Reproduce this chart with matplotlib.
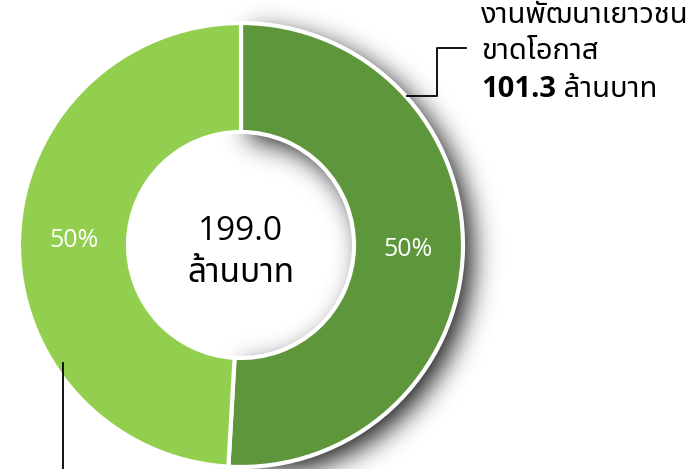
import numpy as np
import matplotlib
matplotlib.use("Agg")
import matplotlib.pyplot as plt

plt.rcParams['font.family'] = ['Open Sans', 'Noto Sans Thai', 'DejaVu Sans']

# data
values = [101.3, 97.7]
pct_labels = ["50%", "50%"]
colors = ["#5E973B", "#92CF4F"]
total_label = "199.0"
unit = "ล้านบาท"
callout_title = "งานพัฒนาเยาวชน\nขาดโอกาส"
callout_value = "101.3"

W, H = 696, 469
cx, cy = 241, 245          # donut centre, pixels from top-left
r_out, r_in = 222, 113

fig = plt.figure(figsize=(W / 100, H / 100), dpi=100)
ax = fig.add_axes([0, 0, 1, 1])
ax.set_xlim(0, W)
ax.set_ylim(0, H)
ax.axis('off')

# soft shadow behind the dark slice
yy, xx = np.mgrid[0:H, 0:W].astype(float)
sx, sy = cx + 9, cy + 8
rr = np.hypot(xx - sx, yy - sy)
ang = np.degrees(np.arctan2(xx - sx, -(yy - sy))) % 360
span = 360 * values[0] / sum(values)
mask = ((rr <= r_out) & (rr >= r_in) & (ang <= span)).astype(float)
k = np.arange(-50, 51)
g = np.exp(-k**2 / (2 * 13.0**2))
g /= g.sum()
blur = np.apply_along_axis(lambda m: np.convolve(m, g, mode='same'), 1, mask)
blur = np.apply_along_axis(lambda m: np.convolve(m, g, mode='same'), 0, blur)
shadow = np.zeros((H, W, 4))
shadow[..., 3] = blur * 0.9
ax.imshow(shadow, extent=(0, W, 0, H), origin='upper', zorder=0, interpolation='bilinear')

wedges, texts = ax.pie(values, colors=colors, labels=pct_labels,
                       startangle=90, counterclock=False,
                       center=(cx, H - cy), radius=r_out,
                       labeldistance=(r_out + r_in) / 2 / r_out,
                       wedgeprops=dict(width=r_out - r_in, edgecolor='white', linewidth=3),
                       textprops=dict(color='white', fontsize=18))
for t in texts:
    t.set_ha('center')
    t.set_va('center')
ax.set_xlim(0, W)
ax.set_ylim(0, H)
ax.set_aspect('auto')

# centre text
ax.text(cx, H - 231, total_label, ha='center', va='center', fontsize=24, color='black')
ax.text(cx, H - 273, unit, ha='center', va='center', fontsize=24, color='black')

# callout for the dark slice
ax.plot([407, 437, 437, 466], [H - 96, H - 96, H - 48, H - 48], color='black', lw=1.3)
ax.text(481, H - 1, callout_title, ha='left', va='top', fontsize=21,
        color='black', linespacing=1.32)
v = ax.text(481, H - 89, callout_value, ha='left', va='center', fontsize=21,
            fontweight='bold', color='black')
fig.canvas.draw()
bb = v.get_window_extent().transformed(ax.transData.inverted())
ax.text(bb.x1, H - 89, " " + unit, ha='left', va='center', fontsize=21, color='black')

# leader for the light slice
ax.plot([63, 63], [H - 363, 0], color='black', lw=1.3)

fig.savefig("out.png", dpi=100)
